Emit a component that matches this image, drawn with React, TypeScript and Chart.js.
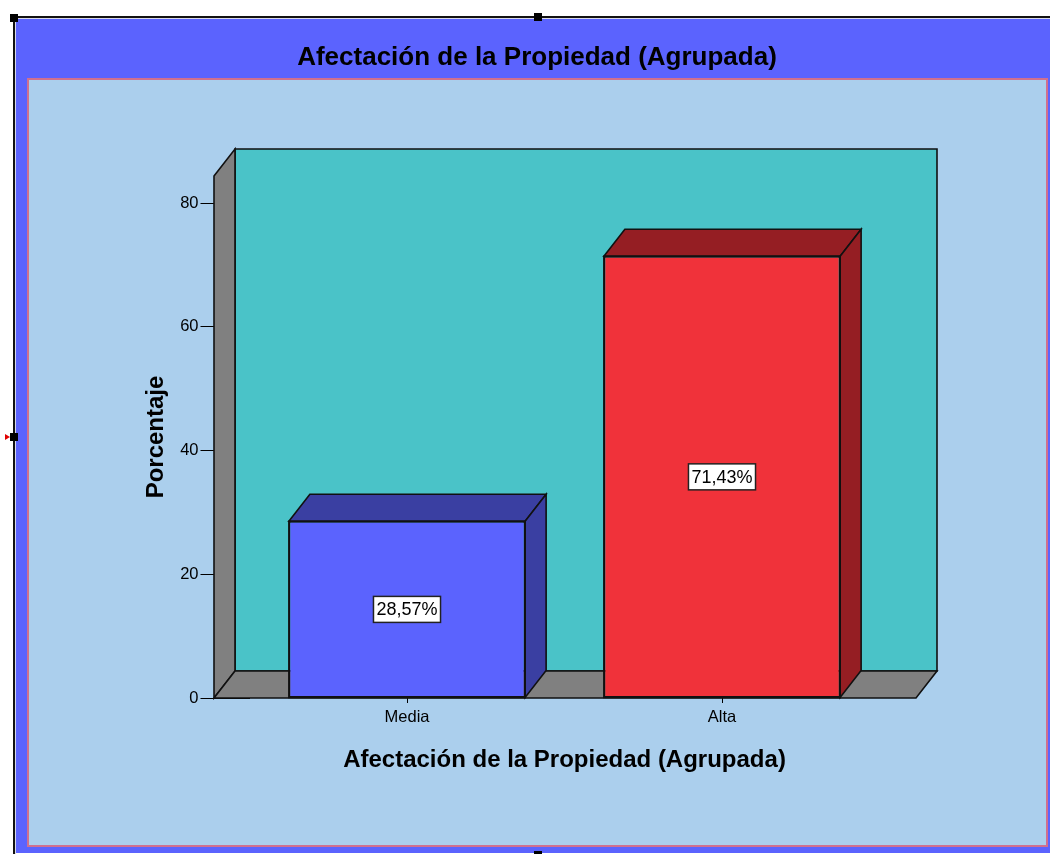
import React, { useEffect, useRef } from 'react';
import { Chart, registerables } from 'chart.js';

Chart.register(...registerables);

const categories = ['Media', 'Alta'];
const percentages = [28.57, 71.43];
const yTickValues = [0, 20, 40, 60, 80];
const yMax = 84.4;
const frontColors = ['#5b63fe', '#f0323a'];
const shadeColors = ['#3a3fa2', '#951e23'];
const chartTitle = 'Afectación de la Propiedad (Agrupada)';
const xAxisTitle = 'Afectación de la Propiedad (Agrupada)';
const yAxisTitle = 'Porcentaje';

const FONT = "'Liberation Sans', Arial, sans-serif";
const DX = 21;
const DY = -27;
const WALL_L = 35.5;
const WALL_R = 36.5;
const EDGE = '#111111';

function poly(ctx: CanvasRenderingContext2D, pts: number[][], fill: string) {
  ctx.beginPath();
  ctx.moveTo(pts[0][0], pts[0][1]);
  for (let i = 1; i < pts.length; i++) ctx.lineTo(pts[i][0], pts[i][1]);
  ctx.closePath();
  ctx.fillStyle = fill;
  ctx.fill();
  ctx.lineWidth = 1.6;
  ctx.strokeStyle = EDGE;
  ctx.lineJoin = 'miter';
  ctx.stroke();
}

const framePlugin = {
  id: 'spssFrame',
  beforeDraw(chart: any) {
    const ctx: CanvasRenderingContext2D = chart.ctx;
    const W = chart.width;
    const H = chart.height;
    ctx.save();
    ctx.fillStyle = '#ffffff';
    ctx.fillRect(0, 0, W, H);
    // outer blue frame
    ctx.fillStyle = '#5b63fe';
    ctx.fillRect(16, 19, W - 16, H - 20);
    // selection border lines
    ctx.fillStyle = '#111111';
    ctx.fillRect(13, 16, W - 13, 2);
    ctx.fillRect(13, 16, 2, H - 16);
    ctx.fillStyle = '#d8d8e8';
    ctx.fillRect(15, 18, W - 15, 1);
    ctx.fillRect(15, 18, 1, H - 18);
    // inner panel
    ctx.fillStyle = '#abcfed';
    ctx.fillRect(27, 78, 1021, 769);
    ctx.strokeStyle = '#d0708e';
    ctx.lineWidth = 2;
    ctx.strokeRect(28, 79, 1019, 767);
    // handles
    ctx.fillStyle = '#000000';
    ctx.fillRect(10, 14, 8, 8);
    ctx.fillRect(534, 13, 8, 8);
    ctx.fillRect(10, 433, 8, 8);
    ctx.fillRect(534, 851, 8, 8);
    ctx.fillStyle = '#e00000';
    ctx.beginPath();
    ctx.moveTo(5, 434);
    ctx.lineTo(10, 437);
    ctx.lineTo(5, 440);
    ctx.closePath();
    ctx.fill();
    ctx.restore();
  },
  beforeDatasetsDraw(chart: any) {
    const ctx: CanvasRenderingContext2D = chart.ctx;
    const { left, right, top, bottom } = chart.chartArea;
    const fl = left - WALL_L;
    const fr = right + WALL_R;
    ctx.save();
    // back wall
    poly(ctx, [[fl + DX, top + DY], [fr + DX, top + DY], [fr + DX, bottom + DY], [fl + DX, bottom + DY]], '#4ac3c8');
    // left side wall
    poly(ctx, [[fl, top], [fl + DX, top + DY], [fl + DX, bottom + DY], [fl, bottom]], '#808080');
    // floor
    poly(ctx, [[fl, bottom], [fl + DX, bottom + DY], [fr + DX, bottom + DY], [fr, bottom]], '#808080');
    ctx.restore();
  },
  afterDatasetsDraw(chart: any) {
    const ctx: CanvasRenderingContext2D = chart.ctx;
    const meta = chart.getDatasetMeta(0);
    ctx.save();
    meta.data.forEach((bar: any, i: number) => {
      const { x, y, base, width } = bar.getProps(['x', 'y', 'base', 'width'], true);
      const L = x - width / 2;
      const R = x + width / 2;
      poly(ctx, [[L, y], [L + DX, y + DY], [R + DX, y + DY], [R, y]], shadeColors[i]);
      poly(ctx, [[R, y], [R + DX, y + DY], [R + DX, base + DY], [R, base]], shadeColors[i]);
      // re-stroke front edge
      ctx.lineWidth = 1.6;
      ctx.strokeStyle = EDGE;
      ctx.strokeRect(L, y, width, base - y);
      // value label
      const text = percentages[i].toFixed(2).replace('.', ',') + '%';
      ctx.font = `18px ${FONT}`;
      const tw = ctx.measureText(text).width;
      const cy = (y + base) / 2;
      const bw = tw + 6;
      const bh = 26;
      ctx.fillStyle = '#ffffff';
      ctx.fillRect(x - bw / 2, cy - bh / 2, bw, bh);
      ctx.lineWidth = 1.5;
      ctx.strokeStyle = '#222222';
      ctx.strokeRect(x - bw / 2, cy - bh / 2, bw, bh);
      ctx.fillStyle = '#000000';
      ctx.textAlign = 'center';
      ctx.textBaseline = 'middle';
      ctx.fillText(text, x, cy + 1);
    });
    ctx.restore();
  },
};

export default function App() {
  const canvasRef = useRef<HTMLCanvasElement | null>(null);

  useEffect(() => {
    const canvas = canvasRef.current;
    if (!canvas) return;
    Chart.defaults.font.family = FONT;
    Chart.defaults.color = '#000000';
    const chart = new Chart(canvas, {
      type: 'bar',
      data: {
        labels: categories,
        datasets: [
          {
            label: yAxisTitle,
            data: percentages,
            backgroundColor: frontColors,
            borderColor: EDGE,
            borderWidth: 1.5,
            borderSkipped: false,
            barPercentage: 0.75,
            categoryPercentage: 1,
          },
        ],
      },
      options: {
        responsive: false,
        animation: false,
        devicePixelRatio: 1,
        layout: { padding: { left: 130, right: 106, top: 20, bottom: 60 } },
        plugins: {
          legend: { display: false },
          tooltip: { enabled: false },
          title: {
            display: true,
            text: chartTitle,
            color: '#000000',
            font: { size: 26, weight: 'bold', family: FONT },
            padding: { top: 22.4, bottom: 102.4 },
          },
        },
        scales: {
          x: {
            type: 'category',
            offset: true,
            grid: {
              display: true,
              drawOnChartArea: false,
              drawTicks: true,
              tickLength: 5,
              offset: false,
              color: '#000000',
              lineWidth: 1,
            },
            border: { display: false },
            ticks: { font: { size: 16.5, family: FONT }, color: '#000000', padding: 5 },
            title: {
              display: true,
              text: xAxisTitle,
              color: '#000000',
              font: { size: 24, weight: 'bold', family: FONT },
              padding: { top: 0, bottom: 19 },
            },
            afterFit: (s: any) => {
              s.height = 96;
            },
          },
          y: {
            type: 'linear',
            position: 'left',
            min: 0,
            max: yMax,
            grid: {
              display: true,
              drawOnChartArea: false,
              drawTicks: true,
              tickLength: 49,
              color: '#000000',
              lineWidth: 1,
            },
            border: { display: false },
            ticks: {
              font: { size: 16.5, family: FONT },
              color: '#000000',
              padding: 2,
              includeBounds: false,
            },
            afterBuildTicks: (s: any) => {
              s.ticks = yTickValues.map((v) => ({ value: v }));
            },
            title: {
              display: true,
              text: yAxisTitle,
              color: '#000000',
              font: { size: 24, weight: 'bold', family: FONT },
              padding: { top: 12, bottom: 0 },
            },
            afterFit: (s: any) => {
              s.width = 119.5;
            },
          },
          yPad: {
            type: 'linear',
            position: 'right',
            display: true,
            grid: { display: false },
            border: { display: false },
            ticks: { display: false },
            afterFit: (s: any) => {
              s.width = 64.5;
            },
          },
        },
      },
      plugins: [framePlugin],
    } as any);
    return () => chart.destroy();
  }, []);

  return (
    <div style={{ position: 'absolute', left: 0, top: 0, width: 1050, height: 854 }}>
      <canvas ref={canvasRef} width={1050} height={854} style={{ width: 1050, height: 854, display: 'block' }} />
    </div>
  );
}
